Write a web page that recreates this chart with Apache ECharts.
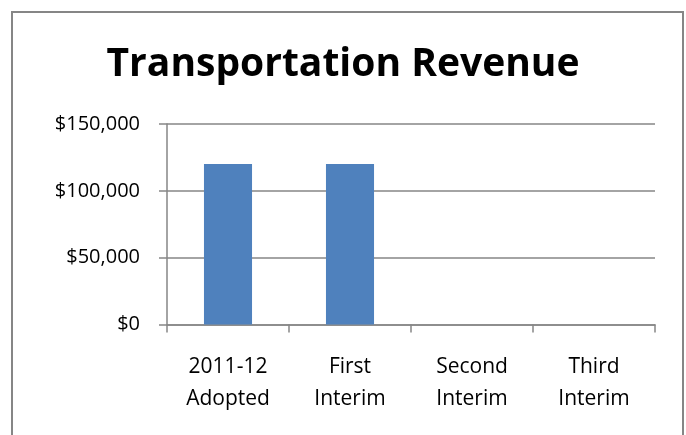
<!DOCTYPE html>
<html>
<head>
<meta charset="utf-8">
<script src="https://cdn.jsdelivr.net/npm/echarts@6/dist/echarts.min.js"></script>
<style>
    html, body { margin: 0; padding: 0; background: #fff; }
    #chart { width: 686px; height: 435px; }
</style>
</head>
<body>
<div id="chart"></div>
<script>
    // chart data
    const titleText = 'Transportation Revenue';
    const categories = ['2011-12\nAdopted', 'First\nInterim', 'Second\nInterim', 'Third\nInterim'];
    const revenue = [120000, 120000, 0, 0];
    const yTicks = { min: 0, max: 150000, interval: 50000 };

    const gray = '#868686';
    const font = '"Open Sans", "Noto Sans", sans-serif';

    let myChart = echarts.init(document.getElementById('chart'));
    let option = {
        backgroundColor: '#fff',
        animation: false,
        title: {
            text: titleText,
            left: 'center',
            top: 40,
            textStyle: {
                fontFamily: font,
                fontSize: 39,
                fontWeight: 'bold',
                color: '#000'
            }
        },
        // outer chart frame
        graphic: [
            {
                type: 'rect',
                shape: { x: 12, y: 12, width: 671, height: 440 },
                style: { fill: 'none', stroke: gray, lineWidth: 2 }
            }
        ],
        grid: {
            left: 167,
            right: 31,
            top: 124,
            bottom: 110.5,
            containLabel: false
        },
        xAxis: {
            type: 'category',
            data: categories,
            axisLine: { show: true, lineStyle: { color: gray, width: 1.5 } },
            axisTick: { show: true, length: 8, lineStyle: { color: gray, width: 1.5 } },
            axisLabel: {
                margin: 27,
                interval: 0,
                fontFamily: font,
                fontSize: 21,
                lineHeight: 32,
                color: '#000'
            }
        },
        yAxis: {
            type: 'value',
            min: yTicks.min,
            max: yTicks.max,
            interval: yTicks.interval,
            axisLine: { show: true, lineStyle: { color: gray, width: 1.5 } },
            axisTick: { show: true, length: 8, lineStyle: { color: gray, width: 1.5 } },
            axisLabel: {
                margin: 27,
                fontFamily: font,
                fontSize: 20,
                color: '#000',
                formatter: function (v) {
                    return '$' + v.toLocaleString('en-US');
                }
            },
            splitLine: { show: true, lineStyle: { color: gray, width: 1.5 } }
        },
        series: [
            {
                type: 'bar',
                data: revenue,
                barCategoryGap: '60.6%',
                itemStyle: { color: '#4F81BD' }
            }
        ]
    };
    myChart.setOption(option);
</script>
</body>
</html>
